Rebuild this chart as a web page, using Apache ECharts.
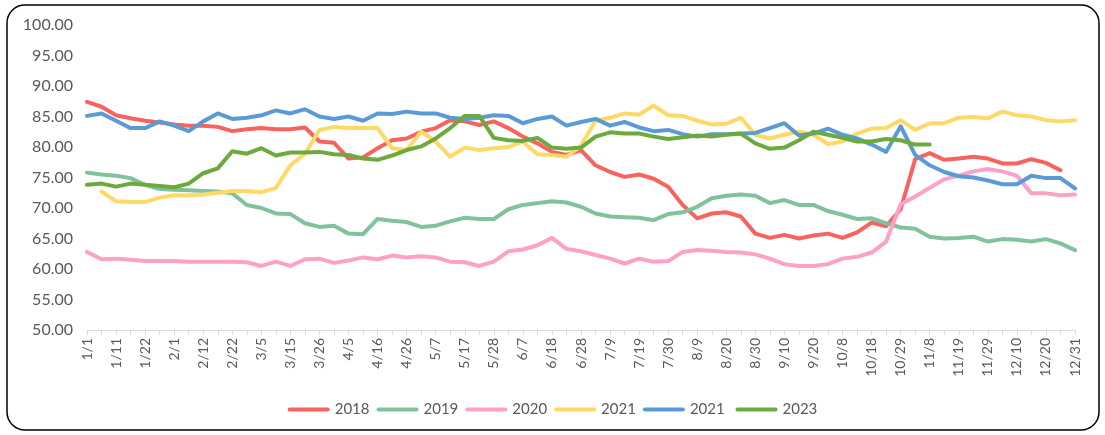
<!DOCTYPE html>
<html>
<head>
<meta charset="utf-8">
<script src="https://cdn.jsdelivr.net/npm/echarts@6/dist/echarts.min.js"></script>
<style>
  html, body { margin: 0; padding: 0; background: #fff; }
  #chart { width: 1105px; height: 435px; }
</style>
</head>
<body>
<div id="chart"></div>
<script>
// tick labels shown on the x axis (one label every second category)
const tickLabels = ['1/1','1/11','1/22','2/1','2/12','2/22','3/5','3/15','3/26','4/5','4/16','4/26',
  '5/7','5/17','5/28','6/7','6/18','6/28','7/9','7/19','7/30','8/9','8/20','8/30','9/10','9/20',
  '10/8','10/18','10/29','11/8','11/19','11/29','12/10','12/20','12/31'];

const legendNames = ['2018', '2019', '2020', '2021', '2021 ', '2023'];

const s2018 = [87.4,86.6,85.2,84.7,84.3,84.0,83.7,83.5,83.5,83.3,82.6,82.9,83.1,82.9,82.9,83.2,80.9,80.7,78.1,78.3,
  79.8,81.1,81.4,82.5,83.1,84.4,84.2,83.6,84.2,83.1,81.7,80.6,79.2,78.7,79.5,77.0,75.9,75.1,75.5,74.8,
  73.5,70.5,68.3,69.1,69.3,68.6,65.8,65.1,65.6,65.0,65.5,65.8,65.1,66.0,67.6,67.0,69.8,78.0,79.0,77.9,
  78.1,78.4,78.1,77.3,77.3,78.0,77.4,76.2,null];

const s2019 = [75.8,75.5,75.3,74.9,73.8,73.1,73.0,72.9,72.8,72.7,72.4,70.5,70.0,69.1,69.0,67.5,66.9,67.1,65.8,65.7,
  68.2,67.9,67.7,66.9,67.1,67.8,68.4,68.2,68.2,69.8,70.5,70.8,71.1,70.9,70.2,69.1,68.6,68.5,68.4,68.0,
  69.0,69.3,70.2,71.6,72.0,72.2,72.0,70.8,71.3,70.5,70.5,69.5,68.9,68.2,68.3,67.5,66.8,66.6,65.3,65.0,
  65.1,65.3,64.5,64.9,64.8,64.5,64.9,64.2,63.1];

const s2020 = [62.8,61.6,61.7,61.5,61.3,61.3,61.3,61.2,61.2,61.2,61.2,61.1,60.5,61.2,60.5,61.6,61.7,61.0,61.4,61.9,
  61.6,62.2,61.9,62.1,61.9,61.2,61.1,60.5,61.2,62.9,63.2,63.9,65.1,63.3,62.9,62.3,61.7,60.9,61.7,61.2,
  61.3,62.8,63.1,63.0,62.8,62.7,62.4,61.7,60.8,60.5,60.5,60.8,61.7,62.0,62.7,64.5,70.6,71.9,73.3,74.7,
  75.3,76.0,76.4,76.0,75.3,72.4,72.4,72.1,72.2];

const s2021a = [null,72.7,71.1,71.0,71.0,71.7,72.1,72.1,72.2,72.5,72.8,72.8,72.6,73.3,77.0,78.9,82.8,83.3,83.1,83.1,
  83.1,79.8,79.5,82.5,80.9,78.4,79.9,79.5,79.8,80.0,80.9,78.8,78.7,78.4,80.2,84.3,84.8,85.5,85.3,86.8,
  85.2,85.1,84.3,83.7,83.8,84.8,82.0,81.4,82.0,82.5,82.0,80.5,80.9,82.2,83.0,83.1,84.4,82.8,83.9,83.9,
  84.8,84.9,84.7,85.8,85.2,85.0,84.4,84.2,84.4];

const s2021b = [85.1,85.5,84.3,83.1,83.1,84.2,83.5,82.6,84.2,85.5,84.6,84.8,85.2,86.0,85.5,86.2,85.0,84.6,85.0,84.3,
  85.5,85.4,85.8,85.5,85.5,84.8,84.6,84.8,85.2,85.1,83.9,84.6,85.0,83.5,84.1,84.6,83.5,84.1,83.2,82.6,
  82.8,82.1,81.7,82.1,82.1,82.2,82.3,83.1,83.9,81.9,82.2,83.0,82.0,81.4,80.4,79.2,83.4,78.7,77.0,75.9,
  75.2,75.0,74.5,73.9,73.9,75.3,74.9,74.9,73.2];

const s2023 = [73.8,74.0,73.5,74.0,73.8,73.6,73.4,74.0,75.7,76.5,79.3,78.9,79.8,78.6,79.1,79.1,79.2,78.8,78.7,78.1,
  77.9,78.6,79.5,80.1,81.4,83.1,85.1,85.1,81.5,81.1,81.0,81.5,79.9,79.7,79.9,81.7,82.4,82.2,82.2,81.7,
  81.3,81.6,81.9,81.7,82.0,82.2,80.6,79.7,79.9,81.1,82.5,82.0,81.5,80.9,80.9,81.3,81.1,80.4,80.4];

const colors = ['#F8625F', '#80C29B', '#FFA0C6', '#FFD966', '#5B9BD5', '#6CAA3E'];

// categories: every labelled date plus the day between two labels
function buildCategories(labels) {
  const out = [];
  const toDate = s => { const p = s.split('/'); return new Date(2023, +p[0] - 1, +p[1]); };
  for (let i = 0; i < labels.length; i++) {
    out.push(labels[i]);
    if (i < labels.length - 1) {
      const a = toDate(labels[i]), b = toDate(labels[i + 1]);
      const m = new Date((a.getTime() + b.getTime()) / 2);
      out.push((m.getMonth() + 1) + '/' + m.getDate() + ' ');
    }
  }
  return out;
}
const categories = buildCategories(tickLabels);

const chart = echarts.init(document.getElementById('chart'));
const allData = [s2018, s2019, s2020, s2021a, s2021b, s2023];
const font = 'Lato, "Noto Sans", sans-serif';

chart.setOption({
  animation: false,
  color: colors,
  textStyle: { fontFamily: font },
  graphic: [{
    type: 'rect',
    shape: { x: 7, y: 5, width: 1092, height: 425, r: 18 },
    style: { fill: 'none', stroke: '#000', lineWidth: 1.5 },
    silent: true
  }],
  grid: { left: 87, right: 30, top: 25, bottom: 105 },
  legend: {
    top: 397,
    left: 'center',
    icon: 'path://M2,0 H40 A2,2 0 0 1 40,4 H2 A2,2 0 0 1 2,0 Z',
    itemWidth: 42,
    itemHeight: 4,
    itemGap: 7,
    textStyle: { color: '#595959', fontSize: 15, fontFamily: font },
    data: legendNames
  },
  xAxis: {
    type: 'category',
    boundaryGap: false,
    data: categories,
    axisLine: { lineStyle: { color: '#D9D9D9', width: 1 } },
    axisTick: { show: true, interval: 0, length: 5, lineStyle: { color: '#D9D9D9' } },
    axisLabel: { interval: 1, rotate: 90, color: '#595959', fontSize: 14, margin: 8, fontFamily: font }
  },
  yAxis: {
    type: 'value',
    min: 50,
    max: 100,
    interval: 5,
    splitLine: { show: false },
    axisLine: { show: false },
    axisTick: { show: false },
    axisLabel: { color: '#595959', fontSize: 16, margin: 14, fontFamily: font,
      formatter: v => v.toFixed(2) }
  },
  series: legendNames.map((n, k) => ({
    name: n,
    type: 'line',
    data: allData[k],
    symbol: 'none',
    connectNulls: false,
    lineStyle: { width: 4, cap: 'round', join: 'round', color: colors[k] },
    itemStyle: { color: colors[k] }
  }))
});
</script>
</body>
</html>
